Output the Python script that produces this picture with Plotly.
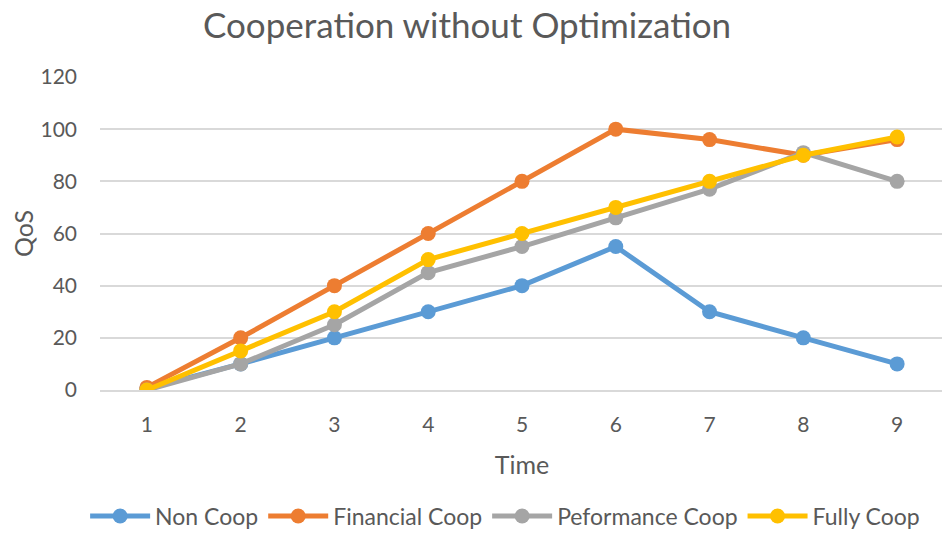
import plotly.graph_objects as go

time = [1, 2, 3, 4, 5, 6, 7, 8, 9]
non_coop = [0.5, 10, 20, 30, 40, 55, 30, 20, 10]
financial_coop = [1, 20, 40, 60, 80, 100, 96, 90, 96]
performance_coop = [0, 10, 25, 45, 55, 66, 77, 91, 80]
fully_coop = [0, 15, 30, 50, 60, 70, 80, 90, 97]

series = [
    ("Non Coop", non_coop, "#5B9BD5"),
    ("Financial Coop", financial_coop, "#ED7D31"),
    ("Peformance Coop", performance_coop, "#A5A5A5"),
    ("Fully Coop", fully_coop, "#FFC000"),
]

fig = go.Figure()
for name, vals, col in series:
    fig.add_trace(go.Scatter(
        x=time, y=vals, name=name, mode="lines+markers",
        line=dict(color=col, width=5),
        marker=dict(color=col, size=15),
    ))

font = "Lato, 'Open Sans', sans-serif"
fig.update_layout(
    width=942, height=525,
    margin=dict(l=92, r=6, t=69, b=143, autoexpand=False),
    paper_bgcolor="white", plot_bgcolor="white",
    font=dict(family=font, color="#595959", size=21),
    title=dict(text="Cooperation without Optimization", x=0.4873, xanchor="center",
               y=0.966, yanchor="middle", font=dict(size=35, color="#595959")),
    xaxis=dict(range=[0.5, 9.5], tickmode="array", tickvals=time, automargin=False,
               showgrid=False, showline=True, linecolor="#D9D9D9", linewidth=1.5,
               zeroline=False, ticks="", tickfont=dict(size=21), ticklabelstandoff=15,
               title=dict(text="Time", font=dict(size=25), standoff=22)),
    yaxis=dict(range=[0, 120], dtick=20, showgrid=True, gridcolor="#D9D9D9", automargin=False,
               gridwidth=1.5, zeroline=False, showline=False, ticks="",
               tickfont=dict(size=21), ticklabelstandoff=22,
               title=dict(text="QoS", font=dict(size=25), standoff=6)),
    legend=dict(orientation="h", x=0.48, xanchor="center", y=-0.4026, yanchor="middle",
                font=dict(size=23), traceorder="normal", itemwidth=60),
    showlegend=True,
)

fig.write_html("out.html")
